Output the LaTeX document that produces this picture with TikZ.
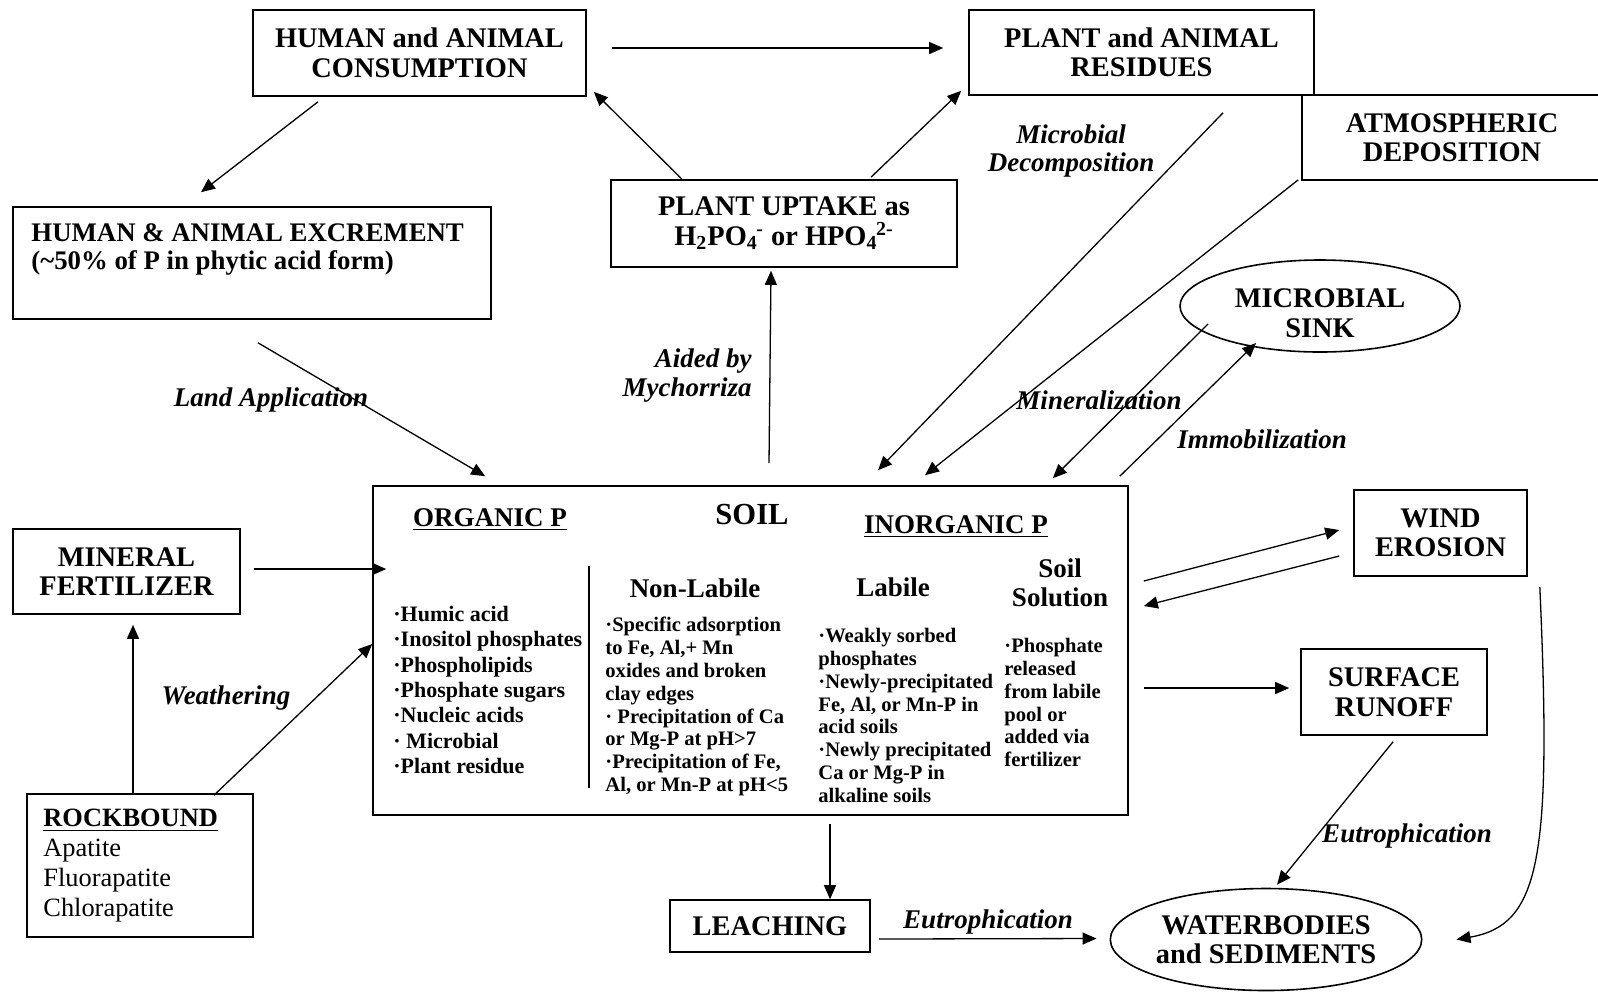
\documentclass[tikz,border=0pt]{standalone}
\usepackage{fontspec}
\setmainfont{Liberation Serif}
\usetikzlibrary{arrows.meta,calc,shapes.geometric}
\begin{document}
\begin{tikzpicture}[x=0.5pt,y=-0.5pt,
  bx/.style={draw,line width=0.8pt,inner sep=0pt,align=center,font=\bfseries\fontsize{14.2}{14.75}\selectfont},
  ell/.style={draw,ellipse,line width=0.8pt,inner sep=0pt,align=center,font=\bfseries\fontsize{14.2}{14.75}\selectfont},
  lbl/.style={inner sep=0pt,align=center,font=\bfseries\itshape\fontsize{13.5}{14.2}\selectfont},
  arr/.style={line width=0.65pt,-{Triangle[length=7pt,width=6pt]}},
  head/.style={inner sep=0pt,align=center,font=\bfseries\fontsize{13.5}{14.3}\selectfont},
  lst/.style={inner sep=0pt,align=left,anchor=north west,font=\bfseries\fontsize{10.3}{11.4}\selectfont},
  olst/.style={inner sep=0pt,align=left,anchor=north west,font=\bfseries\fontsize{11}{12.65}\selectfont}
]
\useasboundingbox (0,0) rectangle (1598,992);

% boxes
\node[bx,minimum width=166.5pt,minimum height=43pt] (hac) at (419.5,53) {HUMAN and ANIMAL\\CONSUMPTION};
\node[bx,minimum width=172.5pt,minimum height=42.5pt] (par) at (1141.5,52.5) {PLANT and ANIMAL\\RESIDUES};
\node[bx,minimum width=150pt,minimum height=42.5pt] (atm) at (1452,137.5) {ATMOSPHERIC\\DEPOSITION};
\node[bx,minimum width=173pt,minimum height=43.5pt] (pu) at (784,223.5) {PLANT UPTAKE as\\H\textsubscript{2}PO\textsubscript{4}\kern-0.05em\textsuperscript{-} or HPO\textsubscript{4}\kern-0.05em\textsuperscript{2-}};
\node[bx,minimum width=239pt,minimum height=56pt] (hae) at (252,263) {};
\node[inner sep=0pt,anchor=north west,align=left,font=\bfseries\fontsize{13.4}{14}\selectfont] (haetxt) at (31,223) {HUMAN \& ANIMAL EXCREMENT\\(\textasciitilde50\% of P in phytic acid form)};
\node[ell,minimum width=140pt,minimum height=46pt] (ms) at (1320,306) {};
\node[inner sep=0pt,align=center,font=\bfseries\fontsize{14.2}{14.75}\selectfont] (mstxt) at (1320,313) {MICROBIAL\\SINK};
\node[draw,line width=0.8pt,minimum width=377.5pt,minimum height=164.5pt,inner sep=0pt] (soil) at (750.5,650.5) {};
\node[bx,minimum width=113.5pt,minimum height=42.5pt] (mf) at (126.5,571.5) {MINERAL\\FERTILIZER};
\node[draw,line width=0.8pt,minimum width=113pt,minimum height=71.5pt,inner sep=0pt] (rb) at (140,865.5) {};
\node[inner sep=0pt,anchor=north west,align=left,font=\fontsize{13.2}{15}\selectfont] (rbtxt) at (43,809) {\textbf{\underline{ROCKBOUND}}\\Apatite\\Fluorapatite\\Chlorapatite};
\node[bx,minimum width=86.5pt,minimum height=43pt] (we) at (1440.5,533) {WIND\\EROSION};
\node[bx,minimum width=93pt,minimum height=43pt] (sr) at (1394,692) {SURFACE\\RUNOFF};
\node[bx,minimum width=100pt,minimum height=26pt] (le) at (770,926) {LEACHING};
\node[ell,minimum width=151pt,minimum height=51pt] (wb) at (1266,939.5) {WATERBODIES\\and SEDIMENTS};

% soil contents
\node[head] (orgp) at (490,520) {\underline{ORGANIC P}};
\node[inner sep=0pt,font=\bfseries\fontsize{15.3}{16}\selectfont] (soilt) at (752,515) {SOIL};
\node[head] (inorgp) at (956,527) {\underline{INORGANIC P}};
\coordinate (vl1) at (589,566);
\coordinate (vl2) at (589,788);
\draw[line width=1.1pt] (vl1) -- (vl2);
\node[head] (nonlab) at (695,588) {Non-Labile};
\node[head] (lab) at (893,587) {Labile};
\node[head] (solsol) at (1060,583) {Soil\\Solution};
\node[olst] (olist) at (393,606) {·Humic acid\\·Inositol phosphates\\·Phospholipids\\·Phosphate sugars\\·Nucleic acids\\· Microbial\\·Plant residue};
\node[lst] (nlist) at (605,617) {·Specific adsorption\\to Fe, Al,+ Mn\\oxides and broken\\clay edges\\· Precipitation of Ca\\or Mg-P at pH>7\\·Precipitation of Fe,\\Al, or Mn-P at pH<5};
\node[lst] (llist) at (818,628) {·Weakly sorbed\\phosphates\\·Newly-precipitated\\Fe, Al, or Mn-P in\\acid soils\\·Newly precipitated\\Ca or Mg-P in\\alkaline soils};
\node[lst] (slist) at (1004,638) {·Phosphate\\released\\from labile\\pool or\\added via\\fertilizer};

% labels
\node[lbl] (lmd) at (1071,151) {Microbial\\Decomposition};
\node[lbl,align=right,anchor=east,font=\bfseries\itshape\fontsize{13.5}{14.75}\selectfont] (laid) at (752,375.5) {Aided by\\Mychorriza};
\node[lbl] (lland) at (271,400) {Land Application};
\node[lbl] (lmin) at (1099,400) {Mineralization};
\node[lbl] (limm) at (1262,439) {Immobilization};
\node[lbl] (lwea) at (226,698) {Weathering};
\node[lbl] (leu1) at (1407,836) {Eutrophication};
\node[lbl] (leu2) at (988,922) {Eutrophication};

% connectors
\draw[arr] ($(hac.east)+(25,-5)$) -- ($(par.west)+(-25,-4.5)$);
\draw[arr] ($(hac.south)+(-101.5,5)$) -- ($(hae.north)+(-51,-14)$);
\draw[arr] ($(pu.north)+(-102,0)$) -- ($(hac.south east)+(7,-5)$);
\draw[arr] ($(pu.north)+(87,-2)$) -- ($(par.south west)+(-7,-5)$);
\draw[arr] ($(soil.north)+(18.5,-22)$) -- ($(pu.south)+(-13,3)$);
\draw[arr] ($(hae.south)+(6,23)$) -- ($(soil.north west)+(113,-9)$);
\draw[arr] ($(par.south)+(81.5,17)$) -- ($(soil.north)+(127.5,-15)$);
\draw[arr] ($(atm.south west)+(-3,-1)$) -- ($(soil.north)+(174.5,-10)$);
\draw[arr] ($(ms.center)+(-112,18)$) -- ($(soil.north east)+(-76,-7)$);
\draw[arr] ($(soil.north east)+(-9,-9)$) -- ($(ms.center)+(-64,37)$);
\draw[arr] ($(mf.east)+(13,-2.5)$) -- ($(soil.west)+(14,-81.5)$);
\draw[arr] ($(rb.north)+(-7,0)$) -- ($(mf.south)+(6.5,10)$);
\draw[arr] ($(rb.north)+(74,2)$) -- ($(soil.west)+(0,-6.5)$);
\draw[arr] ($(soil.east)+(15,-69.5)$) -- ($(we.west)+(-14,-3)$);
\draw[arr] ($(we.west)+(-14,23)$) -- ($(soil.east)+(15,-44.5)$);
\draw[arr] ($(soil.east)+(15,37.5)$) -- ($(sr.west)+(-11,-4)$);
\draw[arr] ($(sr.south)+(-1,6)$) -- ($(wb.north)+(11,-3)$);
\draw[arr] ($(we.south east)+(12,10)$) .. controls (1552,860) and (1540,925) .. ($(wb.east)+(34,0)$);
\draw[arr] ($(soil.south)+(79.5,8)$) -- ($(le.north)+(60,0)$);
\draw[arr] ($(le.east)+(8,13)$) -- ($(wb.west)+(-13,-1)$);
\end{tikzpicture}
\end{document}
